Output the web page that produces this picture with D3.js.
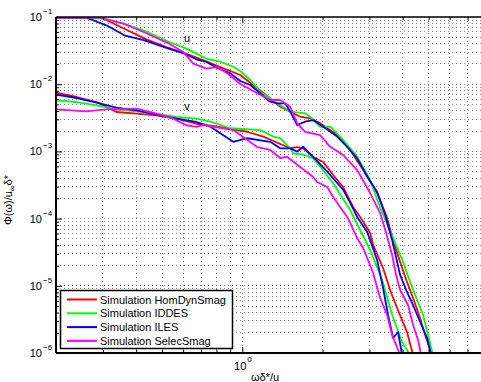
<!DOCTYPE html>
<html><head><meta charset="utf-8">
<script src="https://cdn.jsdelivr.net/npm/d3@7"></script>
<style>body{margin:0;background:#fff}svg{display:block}text{font-family:"Liberation Sans",Arial,Helvetica,sans-serif;fill:#000}</style>
</head><body><svg id="c" width="481" height="382"></svg>
<script>
// ---- data ----
const seriesNames = ["Simulation HomDynSmag","Simulation IDDES","Simulation ILES","Simulation SelecSmag"];
const seriesColors = ["#ff0000","#00ff00","#0000ff","#ff00ff"];
const xTickLabels = [{v:1, e:"0"}];
const yTickLabels = [{v:1e-1,e:"\u22121"},{v:1e-2,e:"\u22122"},{v:1e-3,e:"\u22123"},{v:1e-4,e:"\u22124"},{v:1e-5,e:"\u22125"},{v:1e-6,e:"\u22126"}];

const homDynU = [[0.2,0.098],[0.296,0.0976],[0.361,0.067],[0.43,0.0476],[0.519,0.0358],[0.617,0.0284],[0.733,0.0219],[0.849,0.0172],[0.983,0.0137],[1.138,0.00869],[1.273,0.00617],[1.388,0.00462],[1.513,0.0039],[1.649,0.00328],[1.798,0.00311],[1.96,0.00262],[2.27,0.00175],[2.541,0.00105],[2.842,0.000528],[3.206,0.00024],[3.467,0.000113],[3.681,4.81e-5],[3.911,2.26e-5],[4.15,1.14e-5],[4.373,6.58e-6],[4.647,3.32e-6],[4.894,1.67e-6],[5.15,9.33e-7]];
const iddesU = [[0.2,0.098],[0.301,0.0943],[0.358,0.0795],[0.426,0.0634],[0.532,0.0425],[0.617,0.0338],[0.733,0.024],[0.827,0.0216],[0.925,0.0182],[0.983,0.0157],[1.072,0.01155],[1.168,0.00773],[1.273,0.00617],[1.388,0.0049],[1.513,0.0039],[1.722,0.00369],[1.798,0.00328],[1.96,0.00231],[2.138,0.00233],[2.391,0.00148],[2.698,0.000834],[3.019,0.000375],[3.29,0.000144],[3.681,5.14e-5],[4.013,2.26e-5],[4.262,1.14e-5],[4.528,6.15e-6],[4.769,3.68e-6],[5.197,9.33e-7]];
const ilesU = [[0.2,0.098],[0.26,0.0976],[0.309,0.0752],[0.361,0.0534],[0.43,0.045],[0.519,0.0346],[0.606,0.0284],[0.673,0.0235],[0.733,0.0214],[0.806,0.0174],[0.902,0.0145],[0.983,0.01116],[1.072,0.00973],[1.168,0.00732],[1.273,0.00549],[1.353,0.0052],[1.449,0.0052],[1.513,0.0039],[1.607,0.00247],[1.722,0.00277],[1.845,0.00293],[2.012,0.00233],[2.27,0.00166],[2.475,0.00117],[2.698,0.000789],[2.967,0.000402],[3.206,0.000249],[3.436,0.000113],[3.65,4.81e-5],[3.911,1.45e-5],[4.15,8.09e-6],[4.373,5.18e-6],[4.647,2.89e-6],[4.937,1.67e-6],[5.109,9.33e-7]];
const selecU = [[0.2,0.098],[0.291,0.0983],[0.358,0.0795],[0.426,0.0598],[0.532,0.0401],[0.601,0.0301],[0.655,0.0202],[0.733,0.017],[0.806,0.018],[0.886,0.0142],[0.983,0.01007],[1.138,0.00732],[1.273,0.00582],[1.388,0.00582],[1.513,0.00462],[1.607,0.00262],[1.722,0.00196],[1.96,0.00175],[2.138,0.00117],[2.391,0.000884],[2.698,0.000528],[3.019,0.00024],[3.29,0.000121],[3.467,6.11e-5],[3.65,2.87e-5],[3.776,1.45e-5],[3.911,8.66e-6],[4.188,5.18e-6],[4.373,2.61e-6],[4.567,1.56e-6],[4.688,9.33e-7]];

const homDynV = [[0.2,0.00747],[0.239,0.00645],[0.284,0.00543],[0.337,0.00386],[0.401,0.00364],[0.476,0.00344],[0.566,0.00307],[0.673,0.00258],[0.806,0.00233],[1.044,0.00196],[1.199,0.00166],[1.388,0.00129],[1.513,0.00112],[1.607,0.00116],[1.694,0.00111],[1.845,0.000826],[2.012,0.000695],[2.193,0.000446],[2.391,0.000295],[2.606,0.000149],[2.769,0.000106],[3.019,6.11e-5],[3.097,4.05e-5],[3.375,1.84e-5],[3.586,8.66e-6],[3.81,4.67e-6],[4.15,2.05e-6],[4.373,9.33e-7]];
const iddesV = [[0.2,0.00576],[0.239,0.00543],[0.284,0.00485],[0.337,0.00423],[0.401,0.00395],[0.476,0.00364],[0.566,0.00325],[0.673,0.00307],[0.759,0.00277],[0.902,0.00221],[1.168,0.00208],[1.307,0.00166],[1.388,0.00157],[1.513,0.00111],[1.553,0.000938],[1.722,0.000884],[1.845,0.000789],[1.96,0.000592],[2.193,0.000335],[2.541,0.000134],[2.769,6.77e-5],[3.019,3.41e-5],[3.35,1.22e-5],[3.65,3.68e-6],[3.978,1.46e-6],[4.262,9.33e-7]];
const ilesV = [[0.2,0.00698],[0.239,0.00623],[0.284,0.00531],[0.337,0.00447],[0.401,0.00409],[0.476,0.00352],[0.566,0.00307],[0.673,0.00274],[0.759,0.00233],[0.925,0.00139],[1.044,0.00157],[1.273,0.00139],[1.388,0.00111],[1.513,0.00111],[1.607,0.000991],[1.694,0.00117],[1.845,0.000826],[2.138,0.000446],[2.391,0.000267],[2.541,0.000171],[2.698,0.000106],[2.942,6.32e-5],[3.206,2.42e-5],[3.375,9.28e-6],[3.524,3.68e-6],[3.681,1.67e-6],[3.843,2.05e-6],[3.978,9.33e-7]];
const selecV = [[0.2,0.00423],[0.26,0.00395],[0.309,0.00423],[0.401,0.00432],[0.476,0.00364],[0.551,0.00307],[0.617,0.00245],[0.673,0.00231],[0.714,0.00247],[0.925,0.00208],[1.138,0.00116],[1.273,0.00105],[1.388,0.000798],[1.475,0.000826],[1.649,0.000586],[1.845,0.000416],[1.91,0.000351],[2.083,0.000295],[2.193,0.00021],[2.329,0.000149],[2.475,0.000106],[2.541,8.61e-5],[2.698,5.14e-5],[2.842,3.65e-5],[3.097,1.55e-5],[3.29,6.58e-6],[3.494,3.68e-6],[3.65,1.85e-6],[3.911,9.33e-7]];

const uSeries = [homDynU, iddesU, ilesU, selecU];
const vSeries = [homDynV, iddesV, ilesV, selecV];

// ---- chart ----
const svg = d3.select("#c");
const L=56, T=17, B=353;
const x = d3.scaleLog().domain([0.2,10]).range([L,508.8]);
const y = d3.scaleLog().domain([1e-6,1e-1]).range([B,T]);
const R = x.range()[1];

const xGrid = [];
[0.1,1].forEach(d=>{for(let k=1;k<=9;k++){const v=d*k; if(v>=0.2-1e-9) xGrid.push(v);}});
xGrid.push(10);
const yGrid = [];
[1e-6,1e-5,1e-4,1e-3,1e-2].forEach(d=>{for(let k=1;k<=9;k++) yGrid.push(d*k);});
yGrid.push(0.1);

const g = svg.append("g");
// grid
g.selectAll("line.vg").data(xGrid).join("line").attr("class","vg")
  .attr("x1",d=>x(d)).attr("x2",d=>x(d)).attr("y1",T).attr("y2",B)
  .attr("stroke","#888").attr("stroke-width",1).attr("stroke-dasharray","1,3").attr("shape-rendering","crispEdges");
g.selectAll("line.hg").data(yGrid).join("line").attr("class","hg")
  .attr("x1",L).attr("x2",R).attr("y1",d=>y(d)).attr("y2",d=>y(d))
  .attr("stroke","#888").attr("stroke-width",1).attr("stroke-dasharray","1,3").attr("shape-rendering","crispEdges");

// clip
svg.append("clipPath").attr("id","clip").append("rect").attr("x",L).attr("y",T).attr("width",R-L).attr("height",B-T);
const line = d3.line().x(d=>x(d[0])).y(d=>y(d[1]));
const cg = svg.append("g").attr("clip-path","url(#clip)");
seriesNames.forEach((n,i)=>{
  [uSeries[i], vSeries[i]].forEach(s=>{
    cg.append("path").datum(s).attr("d",line).attr("fill","none")
      .attr("stroke",seriesColors[i]).attr("stroke-width",1.8).attr("stroke-linejoin","round");
  });
});

// axes (ticks inward)
const minorX = xGrid.filter(v=>Math.abs(Math.log10(v)-Math.round(Math.log10(v)))>1e-6);
const majorX = [1,10];
const minorY = yGrid.filter(v=>Math.abs(Math.log10(v)-Math.round(Math.log10(v)))>1e-6);
const majorY = [1e-6,1e-5,1e-4,1e-3,1e-2,1e-1];
function addAxis(gen, tr){ const a=svg.append("g").attr("transform",tr).call(gen); a.selectAll("text").remove(); a.selectAll("path").remove(); a.selectAll("line").attr("stroke","#000"); return a;}
addAxis(d3.axisBottom(x).tickValues(minorX).tickSize(-3),`translate(0,${B})`);
addAxis(d3.axisBottom(x).tickValues(majorX).tickSize(-6),`translate(0,${B})`);
addAxis(d3.axisTop(x).tickValues(minorX).tickSize(-3),`translate(0,${T})`);
addAxis(d3.axisTop(x).tickValues(majorX).tickSize(-6),`translate(0,${T})`);
addAxis(d3.axisLeft(y).tickValues(minorY).tickSize(-3),`translate(${L},0)`);
addAxis(d3.axisLeft(y).tickValues(majorY).tickSize(-6),`translate(${L},0)`);
// frame
svg.append("line").attr("x1",L).attr("x2",R).attr("y1",B).attr("y2",B).attr("stroke","#000").attr("stroke-width",2);
svg.append("line").attr("x1",L).attr("x2",R).attr("y1",T).attr("y2",T).attr("stroke","#000").attr("stroke-width",1.5);
svg.append("line").attr("x1",L).attr("x2",L).attr("y1",T).attr("y2",B).attr("stroke","#000").attr("stroke-width",2);

// tick labels
yTickLabels.forEach(t=>{
  const yy=y(t.v);
  svg.append("text").attr("x",42).attr("y",yy+4).attr("text-anchor","end").attr("font-size",11).text("10");
  svg.append("text").attr("x",43).attr("y",yy-3).attr("font-size",8).text(t.e);
});
xTickLabels.forEach(t=>{
  const xx=x(t.v);
  svg.append("text").attr("x",xx+4).attr("y",370).attr("text-anchor","end").attr("font-size",11).text("10");
  svg.append("text").attr("x",xx+5).attr("y",362).attr("font-size",8).text(t.e);
});

// axis titles
svg.append("text").attr("x",265).attr("y",381).attr("text-anchor","middle").attr("font-size",11).text("ωδ*/u");
const yl = svg.append("text").attr("transform","translate(12,200) rotate(-90)").attr("text-anchor","middle").attr("font-size",11);
yl.append("tspan").text("Φ(ω)/u");
yl.append("tspan").attr("font-size",8).attr("dy",3).text("∞");
yl.append("tspan").attr("dy",-3).text("δ*");

// curve labels
svg.append("text").attr("x",187).attr("y",42).attr("text-anchor","middle").attr("font-size",11).text("u");
svg.append("text").attr("x",187).attr("y",110).attr("text-anchor","middle").attr("font-size",11).text("v");

// legend
const lg = svg.append("g");
lg.append("rect").attr("x",60.5).attr("y",290.5).attr("width",172).attr("height",58).attr("fill","#fff").attr("stroke","#000").attr("stroke-width",1.5);
seriesNames.forEach((n,i)=>{
  const yy = 299.5 + i*13.8;
  lg.append("line").attr("x1",67).attr("x2",97).attr("y1",yy).attr("y2",yy).attr("stroke",seriesColors[i]).attr("stroke-width",2);
  lg.append("text").attr("x",100).attr("y",yy+4).attr("font-size",11).text(n);
});
</script></body></html>
